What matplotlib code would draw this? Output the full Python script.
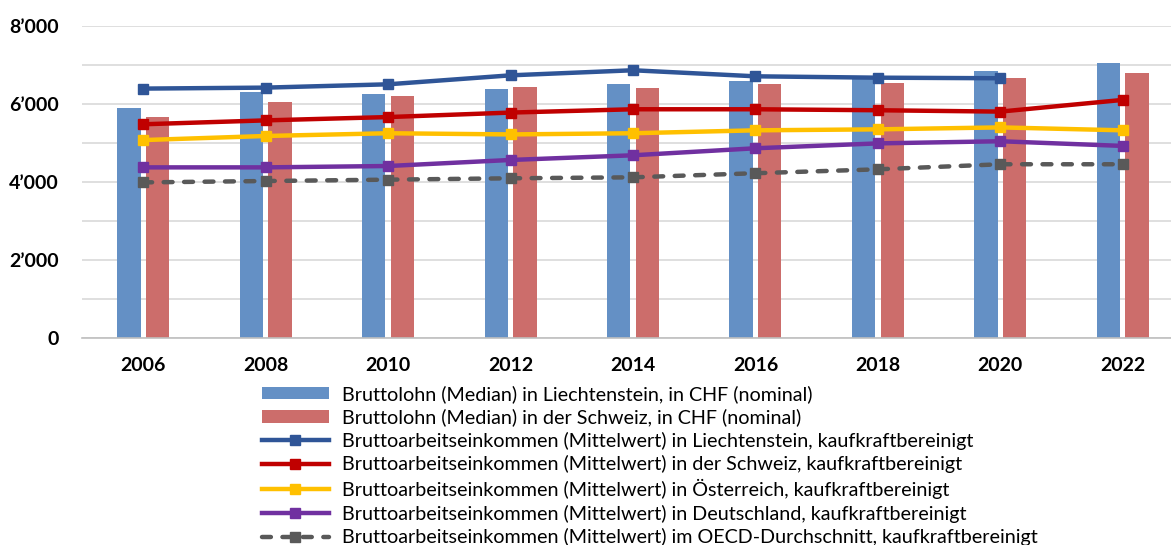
import numpy as np
import matplotlib
matplotlib.use("Agg")
import matplotlib.pyplot as plt
from matplotlib.ticker import FuncFormatter, MultipleLocator

years = ["2006", "2008", "2010", "2012", "2014", "2016", "2018", "2020", "2022"]
lohn_li = [5890, 6310, 6250, 6380, 6510, 6600, 6640, 6850, 7040]
lohn_ch = [5670, 6050, 6205, 6430, 6420, 6500, 6540, 6670, 6790]
eink_li = [6395, 6420, 6505, 6735, 6865, 6710, 6675, 6660, np.nan]
eink_ch = [5480, 5580, 5665, 5780, 5865, 5865, 5840, 5805, 6105]
eink_at = [5075, 5180, 5250, 5220, 5250, 5325, 5350, 5400, 5325]
eink_de = [4375, 4375, 4410, 4565, 4685, 4865, 4990, 5045, 4925]
eink_oecd = [3990, 4025, 4060, 4095, 4120, 4225, 4325, 4455, 4455]

labels = [
    "Bruttolohn (Median) in Liechtenstein, in CHF (nominal)",
    "Bruttolohn (Median) in der Schweiz, in CHF (nominal)",
    "Bruttoarbeitseinkommen (Mittelwert) in Liechtenstein, kaufkraftbereinigt",
    "Bruttoarbeitseinkommen (Mittelwert) in der Schweiz, kaufkraftbereinigt",
    "Bruttoarbeitseinkommen (Mittelwert) in Österreich, kaufkraftbereinigt",
    "Bruttoarbeitseinkommen (Mittelwert) in Deutschland, kaufkraftbereinigt",
    "Bruttoarbeitseinkommen (Mittelwert) im OECD-Durchschnitt, kaufkraftbereinigt",
]

plt.rcParams['font.family'] = ['Lato', 'DejaVu Sans']

fig = plt.figure(figsize=(11.71, 5.45), dpi=100)
ax = fig.add_axes([82/1171, (545-338)/545, 1 - 82/1171, (338-26)/545])

x = np.arange(len(years))
bw = 0.19
off = 0.117
b1 = ax.bar(x - off, lohn_li, width=bw, color="#6490C5", zorder=2, label=labels[0])
b2 = ax.bar(x + off, lohn_ch, width=bw, color="#CC6D6B", zorder=2, label=labels[1])

lw = 3.2
ms = 7.5
l1, = ax.plot(x, eink_li, color="#2F5597", lw=lw, marker="s", ms=ms, zorder=3, label=labels[2])
l2, = ax.plot(x, eink_ch, color="#C00000", lw=lw, marker="s", ms=ms, zorder=3, label=labels[3])
l3, = ax.plot(x, eink_at, color="#FFC000", lw=lw, marker="s", ms=ms, zorder=3, label=labels[4])
l4, = ax.plot(x, eink_de, color="#7030A0", lw=lw, marker="s", ms=ms, zorder=3, label=labels[5])
l5, = ax.plot(x, eink_oecd, color="#595959", lw=lw, marker="s", ms=ms, zorder=3,
              linestyle=(0, (2.0, 2.6)), dash_capstyle="round", label=labels[6])

ax.set_ylim(0, 8000)
ax.set_xlim(-0.5, 8.5 - 13/122.5)
ax.yaxis.set_major_locator(MultipleLocator(2000))
ax.yaxis.set_minor_locator(MultipleLocator(1000))
ax.yaxis.set_major_formatter(FuncFormatter(lambda v, p: "0" if v == 0 else f"{int(v/1000)}\u2019000"))
ax.grid(axis="y", which="both", color="#D9D9D9", lw=1.2, zorder=0)
ax.set_axisbelow(True)
for s in ["left", "right", "top"]:
    ax.spines[s].set_visible(False)
ax.spines["bottom"].set_color("#BFBFBF")
ax.spines["bottom"].set_linewidth(1.2)
ax.tick_params(axis="both", which="both", length=0)
ax.tick_params(axis="y", pad=16.5)
ax.tick_params(axis="x", pad=14)
ax.set_xticks(x)
ax.set_xticklabels(years)
for t in ax.get_xticklabels() + ax.get_yticklabels():
    t.set_fontweight("bold")
    t.set_fontsize(14)
    t.set_color("#000000")

handles = [b1, b2, l1, l2, l3, l4, l5]
leg = fig.legend(handles, labels, loc="upper left", bbox_to_anchor=(254/1171, 1 - 377/545),
                 frameon=False, fontsize=14.2, handlelength=3.4, handleheight=0.6,
                 labelspacing=0.28, handletextpad=0.65, borderaxespad=0)

fig.savefig("out.png", dpi=100)
